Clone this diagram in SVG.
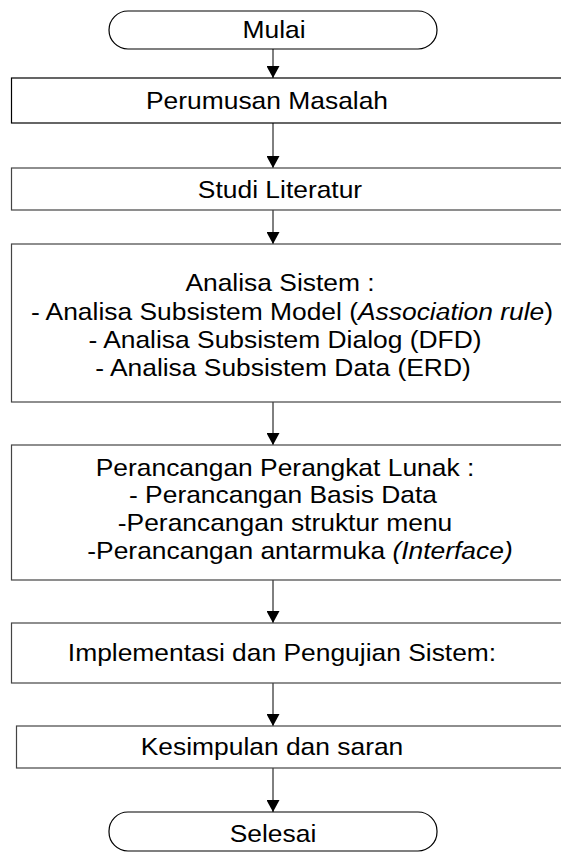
<svg xmlns="http://www.w3.org/2000/svg" width="561" height="853" viewBox="0 0 561 853">
  <style>
    .shape { fill: #ffffff; stroke: #000000; stroke-width: 1.2; }
    .soft { stroke: #444444; }
    .label { font-family: "Liberation Sans", Arial, sans-serif; font-size: 24px; fill: #000000; text-anchor: middle; }
    .it { font-style: italic; }
    .link { stroke: #000000; stroke-width: 1; fill: none; }
  </style>
  <defs>
    <marker id="arrow" viewBox="0 0 12 13" refX="12" refY="6.5" markerWidth="12" markerHeight="13" markerUnits="userSpaceOnUse" orient="auto">
      <path d="M0,0 L12,6.5 L0,13 Z" fill="#000000"/>
    </marker>
  </defs>
  <rect width="561" height="853" fill="#ffffff"/>

  <!-- connectors -->
  <g id="connectors">
    <line class="link" x1="273" y1="49" x2="273" y2="78" marker-end="url(#arrow)"/>
    <line class="link" x1="273" y1="123" x2="273" y2="168" marker-end="url(#arrow)"/>
    <line class="link" x1="273" y1="210" x2="273" y2="244" marker-end="url(#arrow)"/>
    <line class="link" x1="273" y1="402" x2="273" y2="445" marker-end="url(#arrow)"/>
    <line class="link" x1="273" y1="580" x2="273" y2="623" marker-end="url(#arrow)"/>
    <line class="link" x1="273" y1="683" x2="273" y2="726" marker-end="url(#arrow)"/>
    <line class="link" x1="273" y1="768" x2="273" y2="812" marker-end="url(#arrow)"/>
  </g>

  <g id="mulai">
    <rect class="shape" x="109" y="11" width="328" height="38" rx="19" ry="19"/>
    <text class="label" transform="matrix(1.1 0 0 1 274 38)">Mulai</text>
  </g>

  <g id="perumusan">
    <rect class="shape" x="11.5" y="78" width="570" height="45"/>
    <text class="label" transform="matrix(1.1 0 0 1 267 109)">Perumusan Masalah</text>
  </g>

  <g id="studi">
    <rect class="shape soft" x="11.5" y="168" width="570" height="42"/>
    <text class="label" transform="matrix(1.1 0 0 1 280 198)">Studi Literatur</text>
  </g>

  <g id="analisa">
    <rect class="shape soft" x="11.5" y="244" width="570" height="158"/>
    <text class="label" transform="matrix(1.1 0 0 1 280 291)">Analisa Sistem :</text>
    <text class="label" transform="matrix(1.1 0 0 1 292 320)">- Analisa Subsistem Model (<tspan class="it">Association rule</tspan>)</text>
    <text class="label" transform="matrix(1.1 0 0 1 285 348)">- Analisa Subsistem Dialog (DFD)</text>
    <text class="label" transform="matrix(1.1 0 0 1 283 376)">- Analisa Subsistem Data (ERD)</text>
  </g>

  <g id="perancangan">
    <rect class="shape soft" x="11.5" y="445" width="570" height="135"/>
    <text class="label" transform="matrix(1.1 0 0 1 285 476)">Perancangan Perangkat Lunak :</text>
    <text class="label" transform="matrix(1.1 0 0 1 283 503)">- Perancangan Basis Data</text>
    <text class="label" transform="matrix(1.1 0 0 1 285 531)">-Perancangan struktur menu</text>
    <text class="label" transform="matrix(1.1 0 0 1 300 559)">-Perancangan antarmuka <tspan class="it">(Interface)</tspan></text>
  </g>

  <g id="implementasi">
    <rect class="shape soft" x="11.5" y="623" width="570" height="60"/>
    <text class="label" transform="matrix(1.1 0 0 1 282 661)">Implementasi dan Pengujian Sistem:</text>
  </g>

  <g id="kesimpulan">
    <rect class="shape soft" x="16.5" y="726" width="570" height="42"/>
    <text class="label" transform="matrix(1.1 0 0 1 272 755)">Kesimpulan dan saran</text>
  </g>

  <g id="selesai">
    <rect class="shape" x="109" y="812" width="328" height="39" rx="19" ry="19"/>
    <text class="label" transform="matrix(1.1 0 0 1 273 842)">Selesai</text>
  </g>
</svg>
